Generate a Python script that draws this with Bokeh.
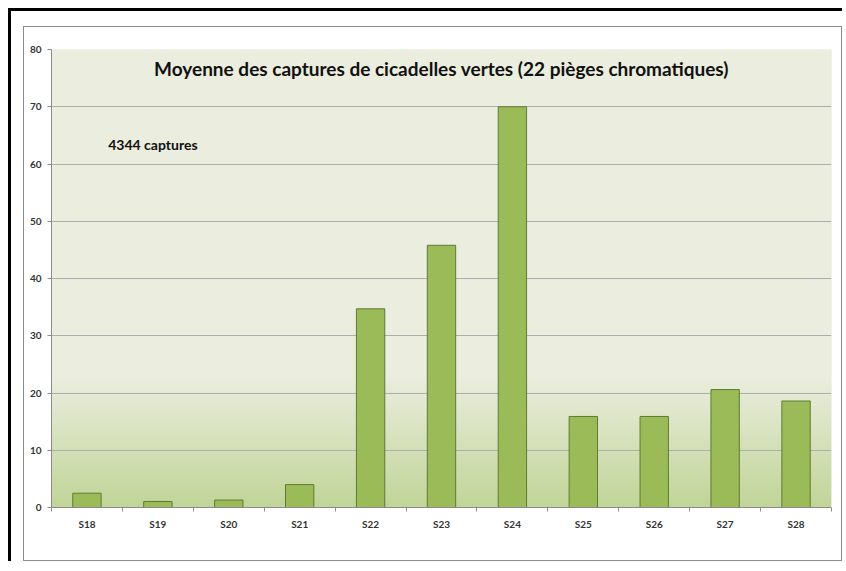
import numpy as np
from bokeh.plotting import figure
from bokeh.layouts import column
from bokeh.models import Range1d, FixedTicker, Label
from bokeh.embed import file_html
from bokeh.resources import INLINE

# ---- data ----
weeks = ["S18", "S19", "S20", "S21", "S22", "S23", "S24", "S25", "S26", "S27", "S28"]
captures = [2.5, 1.05, 1.3, 4.0, 34.7, 45.8, 70.0, 15.9, 15.9, 20.6, 18.6]
y_ticks = [0, 10, 20, 30, 40, 50, 60, 70, 80]
title_text = "Moyenne des captures de cicadelles vertes (22 pièges chromatiques)"
note_text = "4344 captures"

FONT = "Lato"
n = len(weeks)
centers = [i + 0.5 for i in range(n)]
bounds = list(range(n + 1))

p = figure(width=819, height=535, output_backend="svg", toolbar_location=None,
           x_range=Range1d(0, n), y_range=Range1d(0, 80),
           min_border_left=27, min_border_right=12, min_border_top=22, min_border_bottom=55,
           styles={"border": "1px solid #8C8C8C"})
p.outline_line_color = None
p.border_fill_color = "white"
p.background_fill_color = "#EBEEDF"

# background gradient (styling)
rows = 400
vals = np.linspace(0, 80, rows)
top = np.array([235, 238, 223], dtype=float)
bot = np.array([193, 213, 152], dtype=float)
t = np.clip(vals / 23.0, 0, 1)[:, None]
cols = bot * (1 - t) + top * t
img = np.zeros((rows, 1), dtype=np.uint32)
view = img.view(dtype=np.uint8).reshape((rows, 1, 4))
view[:, 0, 0] = cols[:, 0].astype(np.uint8)
view[:, 0, 1] = cols[:, 1].astype(np.uint8)
view[:, 0, 2] = cols[:, 2].astype(np.uint8)
view[:, 0, 3] = 255
bg = p.image_rgba(image=[img], x=0, y=0, dw=n, dh=80)
bg.level = "image"

# bars
p.vbar(x=centers, top=captures, width=0.4, bottom=0,
       fill_color="#9BBB59", line_color="#5F7A32", line_width=1)

# grid
p.xgrid.grid_line_color = None
p.ygrid.grid_line_color = "#ADADAD"
p.ygrid.grid_line_width = 1
p.ygrid.ticker = FixedTicker(ticks=y_ticks)

# y axis
p.yaxis.ticker = FixedTicker(ticks=y_ticks)
p.yaxis.axis_line_color = "#8C8C8C"
p.yaxis.major_tick_line_color = "#8C8C8C"
p.yaxis.major_tick_out = 4
p.yaxis.major_tick_in = 0
p.yaxis.minor_tick_line_color = None
p.yaxis.major_label_text_font = FONT
p.yaxis.major_label_text_font_style = "bold"
p.yaxis.major_label_text_font_size = "10px"
p.yaxis.major_label_text_color = "#333333"
p.yaxis.major_label_standoff = 6

# x axis
p.xaxis.ticker = FixedTicker(ticks=centers, minor_ticks=bounds)
p.xaxis.major_label_overrides = {c: w for c, w in zip(centers, weeks)}
p.xaxis.axis_line_color = "#8C8C8C"
p.xaxis.major_tick_line_color = None
p.xaxis.major_tick_out = 0
p.xaxis.major_tick_in = 0
p.xaxis.minor_tick_line_color = "#8C8C8C"
p.xaxis.minor_tick_out = 4
p.xaxis.minor_tick_in = 0
p.xaxis.major_label_text_font = FONT
p.xaxis.major_label_text_font_style = "bold"
p.xaxis.major_label_text_font_size = "10px"
p.xaxis.major_label_text_color = "#333333"
p.xaxis.major_label_standoff = 6

# texts
p.add_layout(Label(x=5.5, y=76.7, text=title_text, text_align="center",
                   text_baseline="middle", text_font=FONT, text_font_style="bold",
                   text_font_size="19px", text_color="#111111"))
p.add_layout(Label(x=0.80, y=63.4, text=note_text, text_align="left",
                   text_baseline="middle", text_font=FONT, text_font_style="bold",
                   text_font_size="14px", text_color="#111111"))

layout = column(p, styles={"margin-left": "8px", "margin-top": "8px",
                           "border-left": "3px solid black", "border-top": "3px solid black",
                           "padding-left": "12px", "padding-top": "15px"})

open("out.html", "w").write(file_html(layout, INLINE))
